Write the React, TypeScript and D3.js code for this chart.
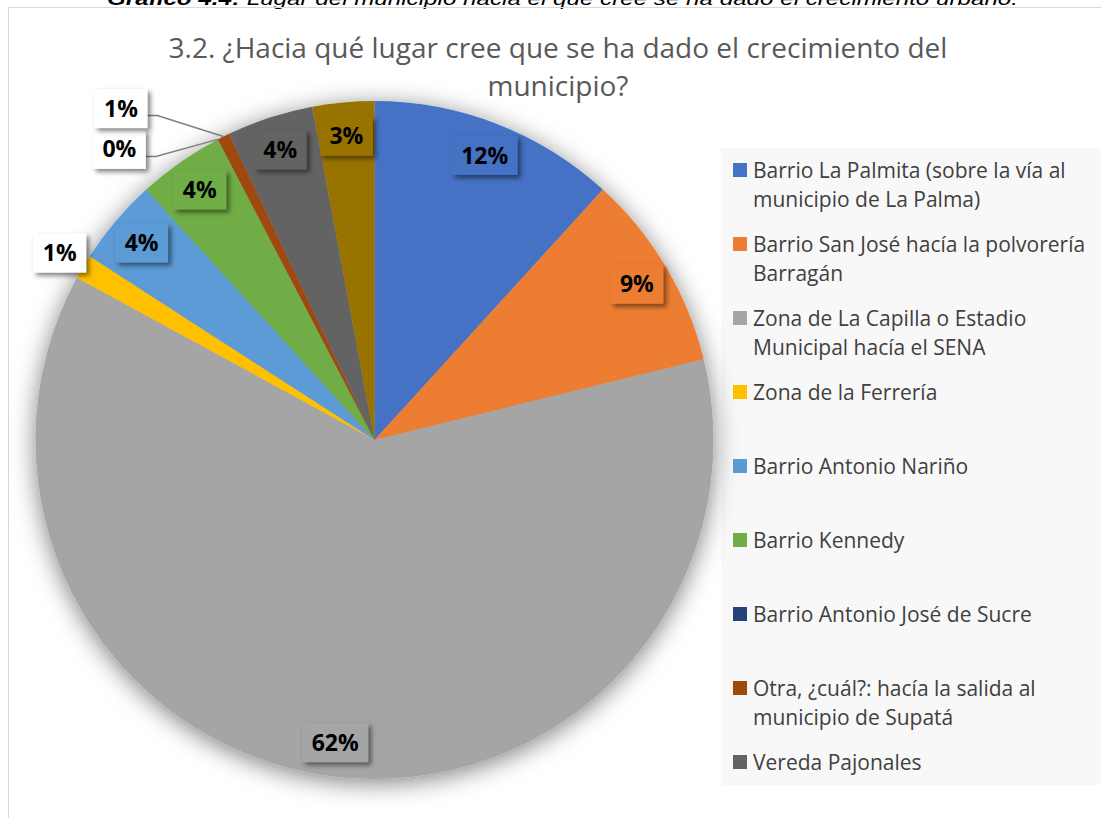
import { useEffect, useRef } from 'react';
import * as d3 from 'd3';

const WIDTH = 1101;
const HEIGHT = 818;

const CAPTION_BOLD = 'Gráfico 4.4:';
const CAPTION_REST = ' Lugar del municipio hacia el que cree se ha dado el crecimiento urbano.';
const TITLE_LINES = ['3.2. ¿Hacia qué lugar cree que se ha dado el crecimiento del', 'municipio?'];

const CATEGORIES = [
  'Barrio La Palmita (sobre la vía al municipio de La Palma)',
  'Barrio San José hacía la polvorería Barragán',
  'Zona de La Capilla o Estadio Municipal hacía el SENA',
  'Zona de la Ferrería',
  'Barrio Antonio Nariño',
  'Barrio Kennedy',
  'Barrio Antonio José de Sucre',
  'Otra, ¿cuál?: hacía la salida al municipio de Supatá',
  'Vereda Pajonales',
  'Otro',
];
// responses per category
const COUNTS = [20, 16, 105, 2, 7, 7, 0, 1, 7, 5];
const COLORS = ['#4472C4', '#ED7D31', '#A5A5A5', '#FFC000', '#5B9BD5', '#70AD47', '#264478', '#9E480E', '#636363', '#997300'];
// how each data label is placed
const LABEL_MODE = ['in', 'in', 'in', 'out', 'in', 'in', 'lead', 'lead', 'in', 'in'];
const LEADER_OFFSETS: Record<number, [number, number]> = { 6: [-72, 10], 7: [-76, -28] };
const LEGEND_COUNT = 9;

const CX = 374.5;
const CY = 440;
const R = 339;

export default function App() {
  const svgRef = useRef<SVGSVGElement>(null);

  useEffect(() => {
    const svg = d3.select(svgRef.current);
    svg.selectAll('*').remove();

    const defs = svg.append('defs');
    defs.append('filter').attr('id', 'pieShadow')
      .attr('x', '-20%').attr('y', '-20%').attr('width', '140%').attr('height', '140%')
      .append('feDropShadow')
      .attr('dx', 0).attr('dy', 4).attr('stdDeviation', 12)
      .attr('flood-color', '#000').attr('flood-opacity', 0.5);
    defs.append('filter').attr('id', 'boxShadow')
      .attr('x', '-30%').attr('y', '-30%').attr('width', '170%').attr('height', '170%')
      .append('feDropShadow')
      .attr('dx', 3).attr('dy', 3).attr('stdDeviation', 2.5)
      .attr('flood-color', '#000').attr('flood-opacity', 0.5);

    svg.append('rect').attr('width', WIDTH).attr('height', HEIGHT).attr('fill', '#fff');

    // caption of the document, cut at the top
    const cap = svg.append('text')
      .attr('x', 107).attr('y', 5)
      .attr('font-family', '"Liberation Sans", Arial, sans-serif')
      .attr('font-size', 19).attr('font-style', 'italic')
      .attr('textLength', 911).attr('lengthAdjust', 'spacingAndGlyphs');
    cap.append('tspan').attr('font-weight', 'bold').text(CAPTION_BOLD);
    cap.append('tspan').text(CAPTION_REST);

    // chart area border
    svg.append('path')
      .attr('d', `M8.5,${HEIGHT} V7.5 H${WIDTH}`)
      .attr('fill', 'none').attr('stroke', '#d9d9d9').attr('stroke-width', 1);

    // title
    svg.append('g').selectAll('text')
      .data(TITLE_LINES)
      .join('text')
      .attr('x', 558)
      .attr('y', (_, i) => 58 + i * 38)
      .attr('text-anchor', 'middle')
      .attr('font-family', '"Open Sans", sans-serif')
      .attr('font-size', 28)
      .attr('fill', '#595959')
      .text(d => d);

    // legend
    svg.append('rect')
      .attr('x', 721).attr('y', 148)
      .attr('width', WIDTH - 721).attr('height', 637)
      .attr('fill', '#f8f8f8');

    const legend = svg.append('g');
    const maxW = 362;
    CATEGORIES.slice(0, LEGEND_COUNT).forEach((name, i) => {
      const top = 170 + i * 74;
      legend.append('rect')
        .attr('x', 733).attr('y', top - 7)
        .attr('width', 14).attr('height', 14)
        .attr('fill', COLORS[i]);
      const t = legend.append('text')
        .attr('font-family', '"Open Sans", sans-serif')
        .attr('font-size', 21)
        .attr('fill', '#404040');
      const words = name.split(' ');
      let line: string[] = [];
      let lineNo = 0;
      let tspan = t.append('tspan').attr('x', 753).attr('y', top + 7.5);
      words.forEach(w => {
        line.push(w);
        tspan.text(line.join(' '));
        if ((tspan.node() as SVGTSpanElement).getComputedTextLength() > maxW && line.length > 1) {
          line.pop();
          tspan.text(line.join(' '));
          line = [w];
          lineNo += 1;
          tspan = t.append('tspan').attr('x', 753).attr('y', top + 7.5 + lineNo * 29.5).text(w);
        }
      });
    });

    // pie
    const total = d3.sum(COUNTS);
    const pie = d3.pie<number>().sort(null).value(d => d)(COUNTS);
    const arc = d3.arc<d3.PieArcDatum<number>>().innerRadius(0).outerRadius(R);
    const at = (a: number, r: number): [number, number] => [CX + Math.sin(a) * r, CY - Math.cos(a) * r];

    svg.append('g')
      .attr('transform', `translate(${CX},${CY})`)
      .attr('filter', 'url(#pieShadow)')
      .selectAll('path')
      .data(pie)
      .join('path')
      .attr('d', arc)
      .attr('fill', (_, i) => COLORS[i]);

    // data labels
    const labels = svg.append('g');
    pie.forEach((p, i) => {
      const mid = (p.startAngle + p.endAngle) / 2;
      const txt = `${Math.round((p.value / total) * 100)}%`;
      const mode = LABEL_MODE[i];
      const g = labels.append('g');
      const rect = g.append('rect')
        .attr('fill', mode === 'in' ? COLORS[i] : '#fff')
        .attr('filter', 'url(#boxShadow)');
      const text = g.append('text')
        .attr('font-family', '"Open Sans", sans-serif')
        .attr('font-weight', 'bold')
        .attr('font-size', 23)
        .attr('fill', '#000')
        .attr('text-anchor', 'middle')
        .text(txt);
      const tw = (text.node() as SVGTextElement).getComputedTextLength();
      const bw = tw + 19;
      const bh = 39;
      let cx: number;
      let cy: number;
      if (mode === 'in') {
        [cx, cy] = at(mid, R * 0.9);
      } else if (mode === 'out') {
        [cx, cy] = at(mid, R * 1.08);
      } else {
        const [ax, ay] = at(mid, R);
        const [ox, oy] = LEADER_OFFSETS[i];
        cx = ax + ox - bw / 2;
        cy = ay + oy;
        const ly = cy + 7;
        labels.insert('path', ':first-child')
          .attr('d', `M${cx + bw / 2},${ly} H${cx + bw / 2 + 10} L${ax},${ay}`)
          .attr('fill', 'none')
          .attr('stroke', '#7f7f7f')
          .attr('stroke-width', 1.5);
      }
      rect.attr('x', cx - bw / 2).attr('y', cy - bh / 2).attr('width', bw).attr('height', bh);
      text.attr('x', cx).attr('y', cy + 8);
    });
  }, []);

  return (
    <svg
      ref={svgRef}
      width={WIDTH}
      height={HEIGHT}
      style={{ position: 'absolute', left: 0, top: 0, display: 'block' }}
    />
  );
}
